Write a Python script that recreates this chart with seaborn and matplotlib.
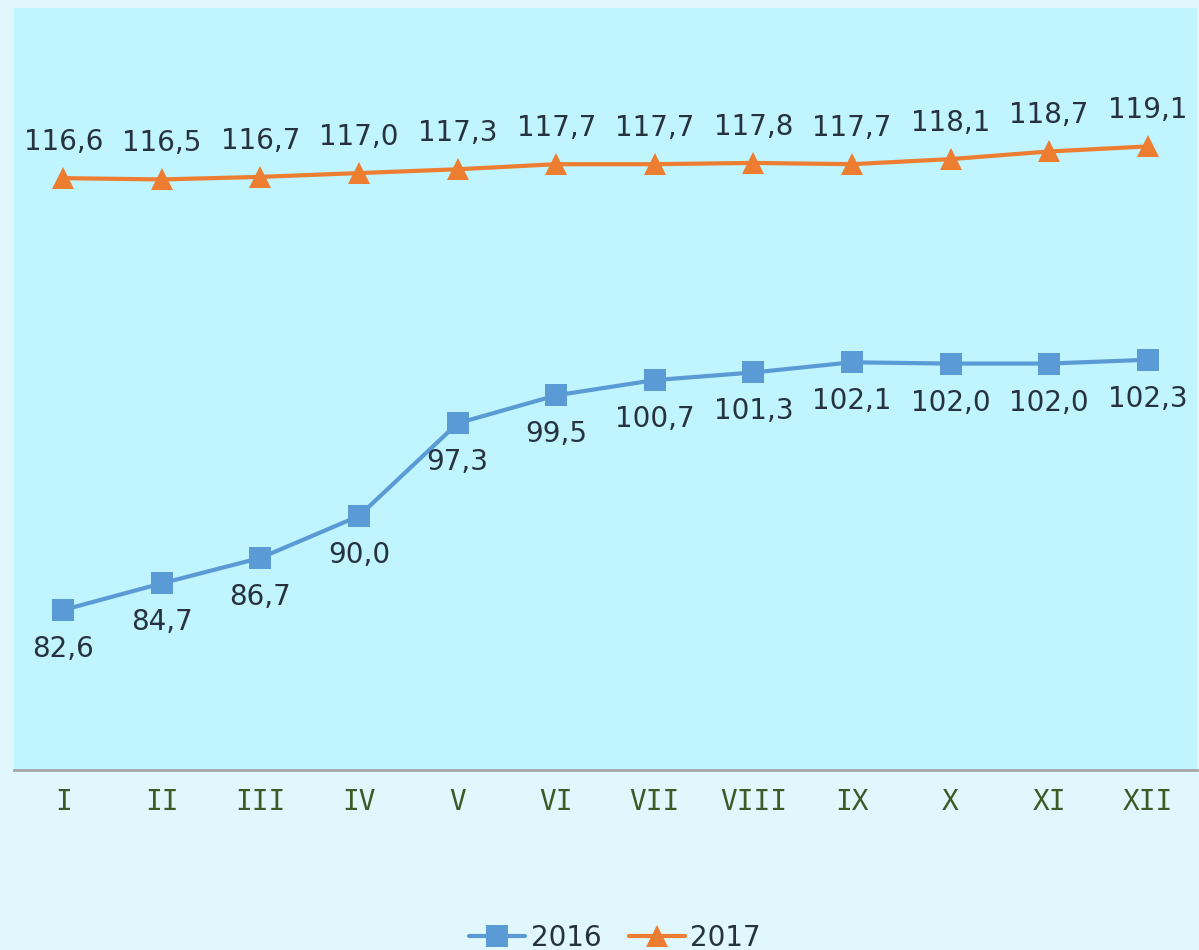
import pandas as pd
import matplotlib.pyplot as plt
import seaborn as sns

# Data
months = ["I", "II", "III", "IV", "V", "VI", "VII", "VIII", "IX", "X", "XI", "XII"]
values_2016 = [82.6, 84.7, 86.7, 90.0, 97.3, 99.5, 100.7, 101.3, 102.1, 102.0, 102.0, 102.3]
values_2017 = [116.6, 116.5, 116.7, 117.0, 117.3, 117.7, 117.7, 117.8, 117.7, 118.1, 118.7, 119.1]

df = pd.DataFrame({
    "idx": list(range(len(months))) * 2,
    "value": values_2016 + values_2017,
    "year": ["2016"] * len(months) + ["2017"] * len(months),
})

sns.set_style("white")
plt.rcParams["font.family"] = ["DejaVu Sans"]

fig = plt.figure(figsize=(11.99, 9.5), dpi=100)
fig.patch.set_facecolor("#dff7fd")
ax = fig.add_axes([0.0117, 0.1895, 0.9866, 0.8021])
ax.set_facecolor("#c0f4fe")

colors = {"2016": "#5b9bd5", "2017": "#ed7d31"}
sns.lineplot(data=df, x="idx", y="value", hue="year", style="year",
             markers={"2016": "s", "2017": "^"}, dashes=False,
             palette=colors, linewidth=3, markersize=16, markeredgewidth=0,
             ax=ax, legend=False)

# value labels with decimal comma
text_color = "#27323f"
for i, v in enumerate(values_2016):
    ax.annotate(f"{v:.1f}".replace(".", ","), (i, v), xytext=(0, -18),
                textcoords="offset points", ha="center", va="top",
                fontsize=20, color=text_color)
for i, v in enumerate(values_2017):
    ax.annotate(f"{v:.1f}".replace(".", ","), (i, v), xytext=(0, 16),
                textcoords="offset points", ha="center", va="bottom",
                fontsize=20, color=text_color)

ax.set_xlim(-0.5, 11.5)
ax.set_ylim(70, 130)
ax.set_xticks(range(len(months)))
ax.set_xticklabels(months, fontsize=20, color="#3d5a26", family="DejaVu Sans Mono")
ax.tick_params(axis="x", length=0, pad=13)
ax.set_yticks([])
ax.set_xlabel("")
ax.set_ylabel("")
for side in ["top", "left", "right"]:
    ax.spines[side].set_visible(False)
ax.spines["bottom"].set_color("#a6a6a6")
ax.spines["bottom"].set_linewidth(2)

handles = [
    plt.Line2D([], [], color=colors["2016"], marker="s", markersize=16, linewidth=3, markeredgewidth=0),
    plt.Line2D([], [], color=colors["2017"], marker="^", markersize=16, linewidth=3, markeredgewidth=0),
]
leg = fig.legend(handles, ["2016", "2017"], loc="lower center", bbox_to_anchor=(0.513, -0.028),
                 ncol=2, frameon=False, fontsize=20, handlelength=2.0,
                 handletextpad=0.2, columnspacing=1.0)
for t in leg.get_texts():
    t.set_color(text_color)

fig.savefig("out.png", dpi=100, facecolor=fig.get_facecolor())
